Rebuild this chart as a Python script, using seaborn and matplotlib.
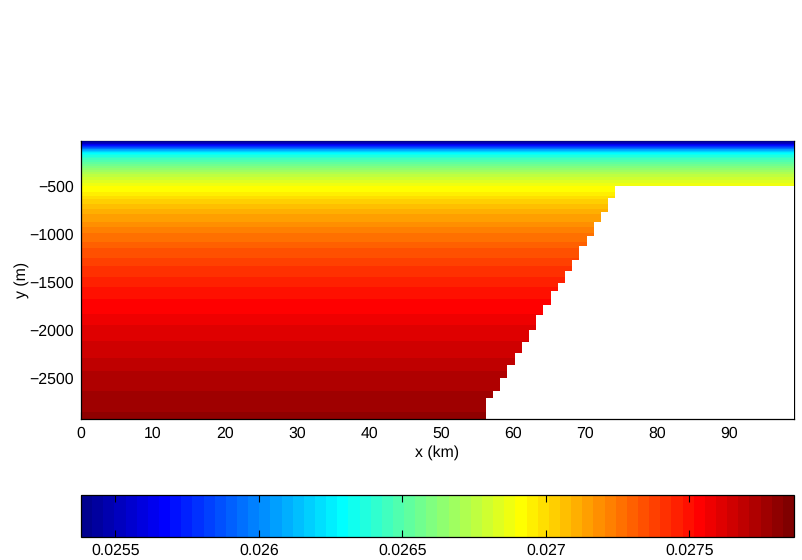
import numpy as np
import pandas as pd
import matplotlib
matplotlib.use("Agg")
import matplotlib.pyplot as plt
from matplotlib.colors import ListedColormap
import seaborn as sns

plt.rcParams['font.family'] = ['Liberation Sans', 'DejaVu Sans']
plt.rcParams['font.size'] = 11.4
plt.rcParams['text.hinting'] = 'none'

# density bands: lower depth (m) of each band, and value in the band
band_bottom = [-30, -35, -40, -46, -51, -56, -61, -66, -72, -76, -80, -84, -88, -92, -97, -101,
               -107, -113, -119, -126, -132, -138, -144, -155, -170, -186, -201, -217, -238, -258, -279, -300,
               -320, -343, -366, -389, -425, -455, -492, -549, -590, -621, -673, -725, -777, -860, -912,
               -974, -1067, -1130, -1234, -1316, -1430, -1534, -1659, -1815, -1929, -2094, -2270, -2405, -2613, -2831, -2905]
band_value = [.025400, .025439, .025478, .025517, .025556, .025594, .025633, .025672,
              .025711, .025750, .025788, .025827, .025866, .025905, .025944, .025982,
              .026021, .026060, .026099, .026138, .026176, .026215, .026254, .026293,
              .026332, .026370, .026409, .026448, .026487, .026526, .026564, .026603,
              .026642, .026681, .026720, .026758, .026797, .026836, .026875, .026914,
              .026952, .026991, .027030, .027069, .027108, .027146, .027185, .027224,
              .027263, .027302, .027340, .027379, .027418, .027457, .027496, .027534,
              .027573, .027612, .027651, .027690, .027728, .027767, .027806]
vmin_val, vmax_val = 0.025381, 0.027864

# sloping bottom: lower depth (m) of each step and offshore extent (km)
wall_bottom = [-487, -611, -756, -860, -1005, -1109, -1254, -1368, -1493, -1576, -1721, -1825,
               -1980, -2105, -2219, -2344, -2478, -2613, -2686, -2905]
wall_km = [99.0, 74.2, 73.2, 72.2, 71.2, 70.2, 69.2, 68.2, 67.2, 66.2, 65.2, 64.2,
           63.2, 62.2, 61.2, 60.2, 59.2, 58.2, 57.2, 56.2]

x_ticks = [0, 10, 20, 30, 40, 50, 60, 70, 80, 90]
y_ticks = [-500, -1000, -1500, -2000, -2500]
cbar_ticks = [0.0255, 0.026, 0.0265, 0.027, 0.0275]
cbar_labels = ['0.0255', '0.026', '0.0265', '0.027', '0.0275']

x_left, x_right, dx = 0.0, 99.0, 0.2
y_top, y_bottom, dy = -20.0, -2903.0, 3.0

ncol = int(round((x_right - x_left) / dx))
nrow = int(round((y_top - y_bottom) / dy))
x_c = x_left + (np.arange(ncol) + 0.5) * dx
y_c = y_top - (np.arange(nrow) + 0.5) * dy

b_idx = np.searchsorted(-np.array(band_bottom), -y_c)
w_idx = np.searchsorted(-np.array(wall_bottom), -y_c)
field = np.tile(np.array(band_value)[b_idx][:, None], (1, ncol))
mask = x_c[None, :] >= np.array(wall_km)[w_idx][:, None]
df = pd.DataFrame(field, index=y_c, columns=x_c)

W, H = 802, 560
fig = plt.figure(figsize=(W / 100, H / 100), dpi=100, facecolor='white')
ax = fig.add_axes([81 / W, 1 - 419 / H, 713 / W, 278 / H])
cax = fig.add_axes([81 / W, 1 - 536.5 / H, 713 / W, 42 / H])

# the classic 64-level jet palette (pure yellow and pure red levels included)
k = np.arange(1, 65)
r = np.clip(np.minimum((k - 24) / 16, 1 - (k - 56) / 16), 0, 1)
g = np.clip(np.minimum((k - 8) / 16, 1 - (k - 40) / 16), 0, 1)
b = np.clip(np.minimum(0.5 + k / 16, 1 - (k - 24) / 16), 0, 1)
cmap = ListedColormap(np.column_stack([r, g, b]))
cmap.set_bad('white')

sns.heatmap(df, mask=mask, cmap=cmap, vmin=vmin_val, vmax=vmax_val, ax=ax, cbar_ax=cax,
            xticklabels=False, yticklabels=False,
            cbar_kws={'orientation': 'horizontal', 'ticks': cbar_ticks})

ax.set_xticks([(v - x_left) / dx for v in x_ticks])
ax.set_xticklabels([str(v) for v in x_ticks], rotation=0)
ax.set_yticks([(y_top - v) / dy for v in y_ticks])
ax.set_yticklabels(['\u2212' + str(-v) for v in y_ticks], rotation=0, va='center')
ax.set_axisbelow(True)
ax.tick_params(direction='in', length=5.2, width=0.8, top=True, right=True,
               bottom=True, left=True, labelsize=11.4, pad=5, color='black')
for name, sp in ax.spines.items():
    sp.set_visible(True)
    sp.set_linewidth(0.9)
    sp.set_color('black')
ax.spines['top'].set_zorder(0.5)
ax.spines['right'].set_zorder(0.5)
ax.set_xlabel('x (km)', fontsize=11.4, labelpad=3.2)
ax.set_ylabel('y (m)', fontsize=11.4, labelpad=0.6)

cbar = ax.collections[0].colorbar
cbar.set_ticklabels(cbar_labels)
cbar.ax.tick_params(direction='in', length=5.2, width=0.8, top=True, bottom=True,
                    labelsize=11.4, pad=5, color='black')
cbar.outline.set_visible(True)
cbar.outline.set_linewidth(0.9)
cbar.outline.set_edgecolor('black')

fig.savefig('out.png', dpi=100, facecolor='white')
